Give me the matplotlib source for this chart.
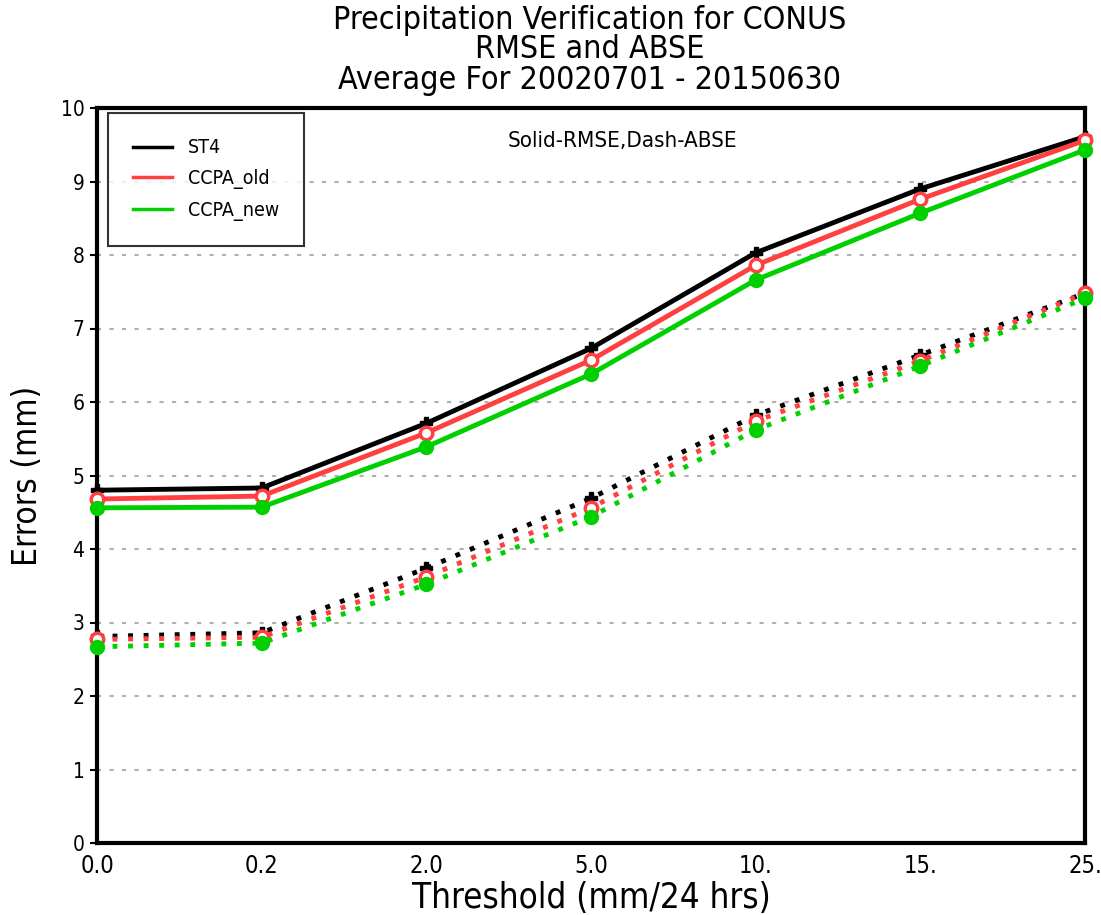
import matplotlib
matplotlib.use("Agg")
import matplotlib.pyplot as plt
from matplotlib.lines import Line2D

plt.rcParams['font.family'] = ['DejaVu Sans']
plt.rcParams['font.stretch'] = 'condensed'

thresholds = ["0.0", "0.2", "2.0", "5.0", "10.", "15.", "25."]
series = ["ST4", "CCPA_old", "CCPA_new"]
colors = ["#000000", "#ff4040", "#00d000"]
rmse_st4 = [4.80, 4.83, 5.71, 6.73, 8.03, 8.90, 9.61]
rmse_old = [4.68, 4.72, 5.58, 6.57, 7.86, 8.76, 9.56]
rmse_new = [4.56, 4.57, 5.39, 6.38, 7.66, 8.57, 9.43]
abse_st4 = [2.81, 2.86, 3.74, 4.69, 5.82, 6.64, 7.48]
abse_old = [2.77, 2.80, 3.62, 4.56, 5.74, 6.56, 7.48]
abse_new = [2.67, 2.72, 3.52, 4.44, 5.62, 6.49, 7.41]

rmse = [rmse_st4, rmse_old, rmse_new]
abse = [abse_st4, abse_old, abse_new]
markers = [dict(marker='P', mfc='#000000', mec='#000000', ms=8),
           dict(marker='o', mfc='white', mec='#ff4040', mew=2.5, ms=9),
           dict(marker='o', mfc='#00d000', mec='#00d000', ms=10)]

fig = plt.figure(figsize=(11.01, 9.15), dpi=100)
ax = fig.add_axes([97/1101, 72/915, 988/1101, 735/915])
x = list(range(len(thresholds)))

for vals, c, m in zip(rmse, colors, markers):
    ax.plot(x, vals, color=c, lw=3.5, ls='-', clip_on=False, zorder=3, **m)
for vals, c, m in zip(abse, colors, markers):
    ax.plot(x, vals, color=c, lw=3.5, ls=(0, (1, 2.2)), clip_on=False, zorder=3, **m)

ax.set_xlim(0, 6)
ax.set_ylim(0, 10)
ax.set_xticks(x)
ax.set_xticklabels(thresholds, fontsize=17)
ax.set_yticks(range(0, 11))
ax.set_yticklabels([str(i) for i in range(0, 11)], fontsize=15)
ax.tick_params(axis='x', length=0, pad=8)
ax.tick_params(axis='y', length=5, width=1.5, pad=4)
ax.yaxis.grid(True, color='#b0b0b0', ls=(0, (2, 4)), lw=1.5)
ax.xaxis.grid(False)
for s in ax.spines.values():
    s.set_linewidth(3)

ax.set_xlabel("Threshold (mm/24 hrs)", fontsize=25, labelpad=2)
ax.set_ylabel("Errors (mm)", fontsize=24, labelpad=12)

fig.text(590/1101, 1 - 20/915, "Precipitation Verification for CONUS", ha='center', va='center', fontsize=23)
fig.text(590/1101, 1 - 50/915, "RMSE and ABSE", ha='center', va='center', fontsize=23)
fig.text(590/1101, 1 - 80/915, "Average For 20020701 - 20150630", ha='center', va='center', fontsize=23)

ax.text(0.532, 0.955, "Solid-RMSE,Dash-ABSE", transform=ax.transAxes, ha='center', va='center', fontsize=16)

handles = [Line2D([0], [0], color=c, lw=2.5) for c in colors]
leg = ax.legend(handles, series, loc='upper left', bbox_to_anchor=(0.011, 0.993),
                fontsize=14, frameon=True, fancybox=False, edgecolor='black',
                handlelength=2.0, handletextpad=0.8, borderpad=1.3, labelspacing=0.6,
                borderaxespad=0)
leg.get_frame().set_linewidth(1.5)

fig.savefig("out.png", dpi=100)
